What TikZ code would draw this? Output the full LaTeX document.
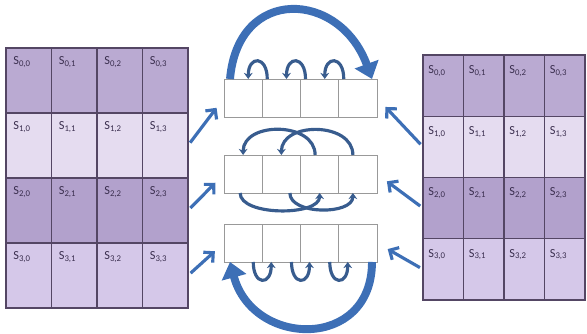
\documentclass[tikz,border=0pt]{standalone}
\usepackage{fontspec}
\setmainfont{Carlito}
\usepackage{xcolor}
\definecolor{arrowblue}{RGB}{61,111,182}
\definecolor{loopblue}{RGB}{56,92,142}
\definecolor{gridline}{RGB}{84,70,100}
\definecolor{labeltext}{RGB}{58,46,78}
\definecolor{rowa}{RGB}{186,170,210}
\definecolor{rowb}{RGB}{229,220,240}
\definecolor{rowc}{RGB}{178,161,204}
\definecolor{rowd}{RGB}{213,200,233}
\usepackage{tikz}
\usetikzlibrary{arrows.meta,positioning,calc}

\begin{document}
\begin{tikzpicture}[
  statecell/.style={rectangle, draw=gridline, line width=0.8pt, inner sep=0pt, outer sep=0pt},
  bytebox/.style={rectangle, draw=gray!80, line width=0.5pt, minimum width=0.765cm, minimum height=0.76cm, inner sep=0pt, outer sep=0pt},
  sublbl/.style={anchor=north west, inner sep=0pt, font=\scriptsize, text=labeltext},
  arr/.style={-{Straight Barb[length=4pt,width=8pt]}, line width=1.8pt, arrowblue, shorten <=2pt, shorten >=7pt},
  bigarc/.style={-{Triangle[length=9pt,width=14pt]}, line width=4.5pt, arrowblue},
  loop/.style={-{Stealth[length=3.5pt,width=5pt]}, line width=1.8pt, loopblue}
]
  \useasboundingbox (0,0) rectangle (11.74,6.68);

  % input state
  \foreach \r/\rowcol in {0/rowa,1/rowb,2/rowc,3/rowd}
    \foreach \c in {0,...,3} {
      \node[statecell, fill=\rowcol, minimum width=0.91cm, minimum height=1.3cm] (L-\r-\c) at ({0.575+0.91*\c},{5.07-1.3*\r}) {};
      \node[sublbl] at ([shift={(0.14,-0.16)}]L-\r-\c.north west) {S\textsubscript{\r,\c}};
    }
  \draw[gridline, line width=1.2pt] (L-0-0.north west) rectangle (L-3-3.south east);

  % output state
  \foreach \r/\rowcol in {0/rowa,1/rowb,2/rowc,3/rowd}
    \foreach \c in {0,...,3} {
      \node[statecell, fill=\rowcol, minimum width=0.81cm, minimum height=1.225cm] (R-\r-\c) at ({8.865+0.81*\c},{4.9675-1.225*\r}) {};
      \node[sublbl] at ([shift={(0.1,-0.2)}]R-\r-\c.north west) {S\textsubscript{\r,\c}};
    }

  % the three shifted rows
  \foreach \b/\y in {1/4.72,2/3.2,3/1.82}
    \foreach \c in {0,...,3}
      \node[bytebox] (B\b-\c) at ({4.8625+0.765*\c},\y) {};

  % row 1: one to the left
  \draw[bigarc] ([xshift=0.12cm]B1-0.north west) to[out=85,in=110,looseness=1.7] ([xshift=-0.1cm]B1-3.north east);
  \foreach \k/\j in {1/0,2/1,3/2}
    \draw[loop] ([xshift=0.1cm]B1-\k.north west) to[out=90,in=90,looseness=3.2] ([xshift=-0.28cm]B1-\j.north east);

  % row 2: two to the left
  \draw[loop] ([xshift=-0.09cm]B2-2.north) to[out=90,in=90,looseness=1.2] (B2-0.north);
  \draw[loop] ([xshift=-0.1cm]B2-3.north) to[out=90,in=90,looseness=1.2] (B2-1.north);
  \draw[loop] ([xshift=-0.06cm]B2-0.south) to[out=-90,in=-90,looseness=0.75] (B2-2.south);
  \draw[loop] ([xshift=0.17cm]B2-1.south) to[out=-90,in=-90,looseness=0.9] ([xshift=-0.1cm]B2-3.south);

  % row 3: three to the left
  \foreach \j/\k in {0/1,1/2,2/3}
    \draw[loop] ([xshift=-0.18cm]B3-\j.south east) to[out=-90,in=-90,looseness=3.4] ([xshift=0.18cm]B3-\k.south west);
  \draw[bigarc] ([xshift=-0.1cm]B3-3.south east) to[out=-90,in=-75,looseness=1.6] ([xshift=0.12cm]B3-0.south west);

  \foreach \r in {1,2,3} {
    \draw[arr] (L-\r-3.east) -- (B\r-0.west);
    \draw[arr] (R-\r-0.west) -- (B\r-3.east);
  }
\end{tikzpicture}
\end{document}
